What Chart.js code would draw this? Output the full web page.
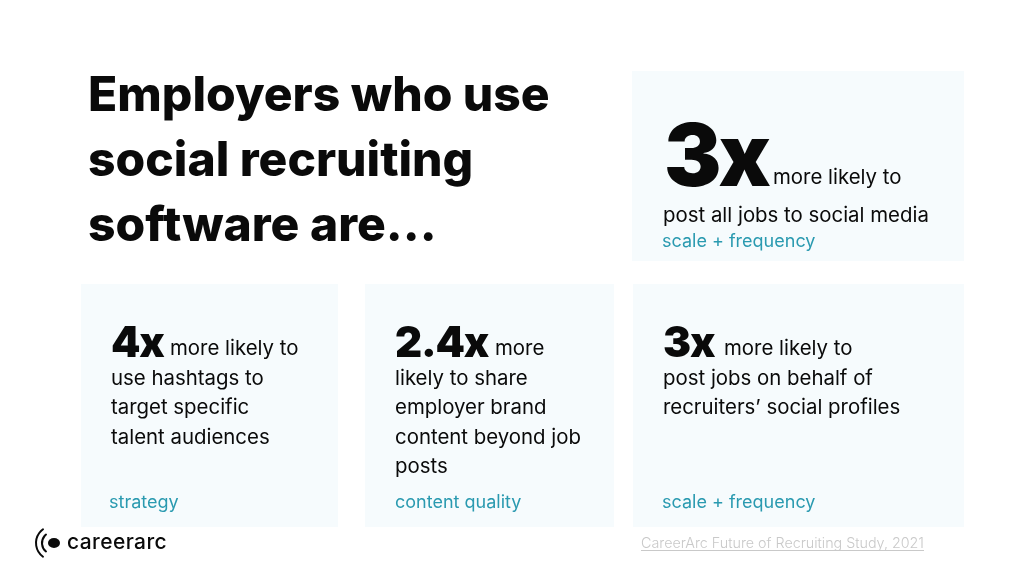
<!DOCTYPE html>
<html>
<head>
<meta charset="utf-8">
<title>Employers who use social recruiting software</title>
<script src="https://cdn.jsdelivr.net/npm/chart.js@4"></script>
<style>
  html, body { margin: 0; padding: 0; background: #fff; }
  canvas { display: block; }
</style>
</head>
<body>
<canvas id="recruiting" width="1024" height="576"></canvas>
<script>
var titleLines = ['Employers who use', 'social recruiting', 'software are...'];
var categories = ['post all jobs', 'hashtags', 'employer brand', 'on behalf of recruiters'];
var multipliers = [3, 4, 2.4, 3];
var tags = ['scale + frequency', 'strategy', 'content quality', 'scale + frequency'];
var firstWords = ['more likely to', 'more likely to', 'more', 'more likely to'];
var bodyLines = [
  ['post all jobs to social media'],
  ['use hashtags to', 'target specific', 'talent audiences'],
  ['likely to share', 'employer brand', 'content beyond job', 'posts'],
  ['post jobs on behalf of', 'recruiters\u2019 social profiles']
];
var sourceText = 'CareerArc Future of Recruiting Study, 2021';
var brandName = 'careerarc';

// card layout, same order as the arrays above
var cards = [
  { x: 632, y: 71, w: 332, h: 190, numX: 664, numY: 186, numSize: 86, numSpace: -3, wordX: 773, wordY: 184, bodyX: 663, bodyY: 222, tagX: 662, tagY: 247 },
  { x: 81, y: 284, w: 257, h: 243, numX: 111, numY: 357, numSize: 42, numSpace: -1.2, wordX: 170, wordY: 355, bodyX: 111, bodyY: 385, tagX: 109, tagY: 508 },
  { x: 365, y: 284, w: 249, h: 243, numX: 395, numY: 357, numSize: 42, numSpace: -1.2, wordX: 495, wordY: 355, bodyX: 395, bodyY: 385, tagX: 395, tagY: 508 },
  { x: 633, y: 284, w: 331, h: 243, numX: 663, numY: 357, numSize: 42, numSpace: -1.2, wordX: 724, wordY: 355, bodyX: 663, bodyY: 385, tagX: 662, tagY: 508 }
];
var fontName = 'Inter';
var ink = '#0a0a0a';
var teal = '#2a9ab0';
var lineGap = 29.4;

var cardPanels = {
  id: 'cardPanels',
  beforeDatasetsDraw: function(chart) {
    var ctx = chart.ctx;
    ctx.save();
    ctx.fillStyle = '#f6fbfd';
    cards.forEach(function(c) {
      ctx.fillRect(c.x, c.y, c.w, c.h);
    });
    ctx.restore();
  }
};

var cardText = {
  id: 'cardText',
  afterDraw: function(chart) {
    var ctx = chart.ctx;
    ctx.save();
    ctx.textBaseline = 'alphabetic';
    ctx.textAlign = 'left';
    cards.forEach(function(c, i) {
      ctx.fillStyle = ink;
      ctx.font = '900 ' + c.numSize + 'px ' + fontName;
      ctx.letterSpacing = c.numSpace + 'px';
      ctx.fillText(multipliers[i] + 'x', c.numX, c.numY);
      ctx.letterSpacing = '0px';

      ctx.font = '400 20.4px ' + fontName;
      ctx.fillText(firstWords[i], c.wordX, c.wordY);
      bodyLines[i].forEach(function(line, j) {
        ctx.fillText(line, c.bodyX, c.bodyY + j * lineGap);
      });

      ctx.fillStyle = teal;
      ctx.font = '400 18px ' + fontName;
      ctx.fillText(tags[i], c.tagX, c.tagY);
    });

    // source link
    ctx.fillStyle = '#c9c9c9';
    ctx.font = '300 14.3px ' + fontName;
    ctx.fillText(sourceText, 641, 548);
    ctx.fillRect(641, 550, 283, 1);

    // logo
    ctx.strokeStyle = ink;
    ctx.lineWidth = 2;
    ctx.lineCap = 'round';
    ctx.beginPath();
    ctx.arc(53, 543, 17, Math.PI * 0.7, Math.PI * 1.3);
    ctx.stroke();
    ctx.beginPath();
    ctx.arc(53, 543, 11, Math.PI * 0.72, Math.PI * 1.28);
    ctx.stroke();
    ctx.fillStyle = ink;
    ctx.beginPath();
    ctx.ellipse(54, 543, 6, 5, 0, 0, Math.PI * 2);
    ctx.fill();
    ctx.font = '500 21px ' + fontName;
    ctx.letterSpacing = '0.4px';
    ctx.fillText(brandName, 67, 549);
    ctx.restore();
  }
};

new Chart(document.getElementById('recruiting'), {
  type: 'bar',
  data: {
    labels: categories,
    datasets: [{
      label: 'times more likely',
      data: multipliers,
      backgroundColor: 'rgba(0,0,0,0)'
    }]
  },
  options: {
    responsive: false,
    animation: false,
    layout: { padding: { left: 88, top: 64 } },
    scales: {
      x: { display: false },
      y: { display: false, beginAtZero: true }
    },
    plugins: {
      legend: { display: false },
      tooltip: { enabled: false },
      title: {
        display: true,
        text: titleLines,
        align: 'start',
        color: ink,
        padding: 0,
        font: { family: fontName, size: 48, weight: '800', lineHeight: 1.354 }
      }
    }
  },
  plugins: [cardPanels, cardText]
});
</script>
</body>
</html>
